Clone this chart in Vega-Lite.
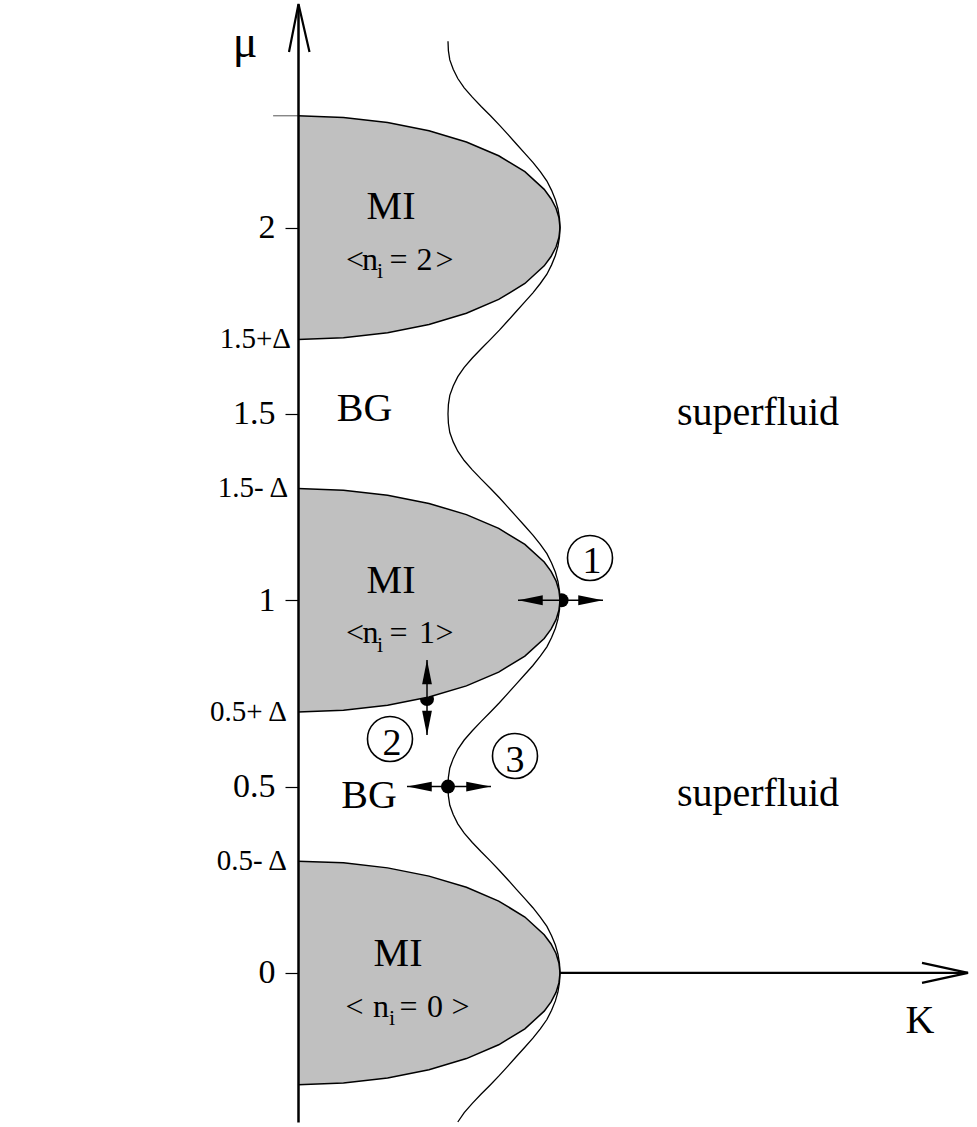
{
  "$schema": "https://vega.github.io/schema/vega-lite/v6.json",
  "width": 655,
  "height": 1118,
  "autosize": {"type": "none"},
  "padding": {"left": 298, "top": 4, "right": 24, "bottom": 5},
  "background": "white",
  "config": {"view": {"stroke": null}},
  "datasets": {
    "lobes": [
      {"lobe": "n2", "K": 0, "mu": 2.3}, {"lobe": "n2", "K": 0.1736, "mu": 2.2954}, {"lobe": "n2", "K": 0.342, "mu": 2.2819}, {"lobe": "n2", "K": 0.5, "mu": 2.2598}, {"lobe": "n2", "K": 0.6428, "mu": 2.2298}, {"lobe": "n2", "K": 0.766, "mu": 2.1928}, {"lobe": "n2", "K": 0.866, "mu": 2.15}, {"lobe": "n2", "K": 0.9397, "mu": 2.1026}, {"lobe": "n2", "K": 0.9659, "mu": 2.0776}, {"lobe": "n2", "K": 0.9848, "mu": 2.0521}, {"lobe": "n2", "K": 0.9962, "mu": 2.0261}, {"lobe": "n2", "K": 1, "mu": 2}, {"lobe": "n2", "K": 0.9962, "mu": 1.9739}, {"lobe": "n2", "K": 0.9848, "mu": 1.9479}, {"lobe": "n2", "K": 0.9659, "mu": 1.9224}, {"lobe": "n2", "K": 0.9397, "mu": 1.8974}, {"lobe": "n2", "K": 0.866, "mu": 1.85}, {"lobe": "n2", "K": 0.766, "mu": 1.8072}, {"lobe": "n2", "K": 0.6428, "mu": 1.7702}, {"lobe": "n2", "K": 0.5, "mu": 1.7402}, {"lobe": "n2", "K": 0.342, "mu": 1.7181}, {"lobe": "n2", "K": 0.1736, "mu": 1.7046}, {"lobe": "n2", "K": 0, "mu": 1.7},
      {"lobe": "n1", "K": 0, "mu": 1.3}, {"lobe": "n1", "K": 0.1736, "mu": 1.2954}, {"lobe": "n1", "K": 0.342, "mu": 1.2819}, {"lobe": "n1", "K": 0.5, "mu": 1.2598}, {"lobe": "n1", "K": 0.6428, "mu": 1.2298}, {"lobe": "n1", "K": 0.766, "mu": 1.1928}, {"lobe": "n1", "K": 0.866, "mu": 1.15}, {"lobe": "n1", "K": 0.9397, "mu": 1.1026}, {"lobe": "n1", "K": 0.9659, "mu": 1.0776}, {"lobe": "n1", "K": 0.9848, "mu": 1.0521}, {"lobe": "n1", "K": 0.9962, "mu": 1.0261}, {"lobe": "n1", "K": 1, "mu": 1}, {"lobe": "n1", "K": 0.9962, "mu": 0.9739}, {"lobe": "n1", "K": 0.9848, "mu": 0.9479}, {"lobe": "n1", "K": 0.9659, "mu": 0.9224}, {"lobe": "n1", "K": 0.9397, "mu": 0.8974}, {"lobe": "n1", "K": 0.866, "mu": 0.85}, {"lobe": "n1", "K": 0.766, "mu": 0.8072}, {"lobe": "n1", "K": 0.6428, "mu": 0.7702}, {"lobe": "n1", "K": 0.5, "mu": 0.7402}, {"lobe": "n1", "K": 0.342, "mu": 0.7181}, {"lobe": "n1", "K": 0.1736, "mu": 0.7046}, {"lobe": "n1", "K": 0, "mu": 0.7},
      {"lobe": "n0", "K": 0, "mu": 0.3}, {"lobe": "n0", "K": 0.1736, "mu": 0.2954}, {"lobe": "n0", "K": 0.342, "mu": 0.2819}, {"lobe": "n0", "K": 0.5, "mu": 0.2598}, {"lobe": "n0", "K": 0.6428, "mu": 0.2298}, {"lobe": "n0", "K": 0.766, "mu": 0.1928}, {"lobe": "n0", "K": 0.866, "mu": 0.15}, {"lobe": "n0", "K": 0.9397, "mu": 0.1026}, {"lobe": "n0", "K": 0.9659, "mu": 0.0776}, {"lobe": "n0", "K": 0.9848, "mu": 0.0521}, {"lobe": "n0", "K": 0.9962, "mu": 0.0261}, {"lobe": "n0", "K": 1, "mu": 0}, {"lobe": "n0", "K": 0.9962, "mu": -0.0261}, {"lobe": "n0", "K": 0.9848, "mu": -0.0521}, {"lobe": "n0", "K": 0.9659, "mu": -0.0776}, {"lobe": "n0", "K": 0.9397, "mu": -0.1026}, {"lobe": "n0", "K": 0.866, "mu": -0.15}, {"lobe": "n0", "K": 0.766, "mu": -0.1928}, {"lobe": "n0", "K": 0.6428, "mu": -0.2298}, {"lobe": "n0", "K": 0.5, "mu": -0.2598}, {"lobe": "n0", "K": 0.342, "mu": -0.2819}, {"lobe": "n0", "K": 0.1736, "mu": -0.2954}, {"lobe": "n0", "K": 0, "mu": -0.3}
    ],
    "boundary": [
      {"K": 0.5725, "mu": 2.5}, {"K": 0.574, "mu": 2.475}, {"K": 0.5794, "mu": 2.45}, {"K": 0.5924, "mu": 2.425}, {"K": 0.6099, "mu": 2.4}, {"K": 0.6344, "mu": 2.375}, {"K": 0.6653, "mu": 2.35}, {"K": 0.6992, "mu": 2.325}, {"K": 0.7347, "mu": 2.3}, {"K": 0.7687, "mu": 2.275}, {"K": 0.8011, "mu": 2.25}, {"K": 0.8328, "mu": 2.225}, {"K": 0.8649, "mu": 2.2}, {"K": 0.8966, "mu": 2.175}, {"K": 0.9248, "mu": 2.15}, {"K": 0.95, "mu": 2.125}, {"K": 0.9679, "mu": 2.1}, {"K": 0.9824, "mu": 2.075}, {"K": 0.9924, "mu": 2.05}, {"K": 0.9981, "mu": 2.025}, {"K": 1, "mu": 2.0},
      {"K": 0.9981, "mu": 1.975}, {"K": 0.9924, "mu": 1.95}, {"K": 0.9824, "mu": 1.925}, {"K": 0.9679, "mu": 1.9}, {"K": 0.95, "mu": 1.875}, {"K": 0.9248, "mu": 1.85}, {"K": 0.8966, "mu": 1.825}, {"K": 0.8649, "mu": 1.8}, {"K": 0.8328, "mu": 1.775}, {"K": 0.8011, "mu": 1.75}, {"K": 0.7687, "mu": 1.725}, {"K": 0.7347, "mu": 1.7}, {"K": 0.6992, "mu": 1.675}, {"K": 0.6653, "mu": 1.65}, {"K": 0.6344, "mu": 1.625}, {"K": 0.6099, "mu": 1.6}, {"K": 0.5924, "mu": 1.575}, {"K": 0.5794, "mu": 1.55}, {"K": 0.574, "mu": 1.525}, {"K": 0.5725, "mu": 1.5},
      {"K": 0.574, "mu": 1.475}, {"K": 0.5794, "mu": 1.45}, {"K": 0.5924, "mu": 1.425}, {"K": 0.6099, "mu": 1.4}, {"K": 0.6344, "mu": 1.375}, {"K": 0.6653, "mu": 1.35}, {"K": 0.6992, "mu": 1.325}, {"K": 0.7347, "mu": 1.3}, {"K": 0.7687, "mu": 1.275}, {"K": 0.8011, "mu": 1.25}, {"K": 0.8328, "mu": 1.225}, {"K": 0.8649, "mu": 1.2}, {"K": 0.8966, "mu": 1.175}, {"K": 0.9248, "mu": 1.15}, {"K": 0.95, "mu": 1.125}, {"K": 0.9679, "mu": 1.1}, {"K": 0.9824, "mu": 1.075}, {"K": 0.9924, "mu": 1.05}, {"K": 0.9981, "mu": 1.025}, {"K": 1, "mu": 1.0},
      {"K": 0.9981, "mu": 0.975}, {"K": 0.9924, "mu": 0.95}, {"K": 0.9824, "mu": 0.925}, {"K": 0.9679, "mu": 0.9}, {"K": 0.95, "mu": 0.875}, {"K": 0.9248, "mu": 0.85}, {"K": 0.8966, "mu": 0.825}, {"K": 0.8649, "mu": 0.8}, {"K": 0.8328, "mu": 0.775}, {"K": 0.8011, "mu": 0.75}, {"K": 0.7687, "mu": 0.725}, {"K": 0.7347, "mu": 0.7}, {"K": 0.6992, "mu": 0.675}, {"K": 0.6653, "mu": 0.65}, {"K": 0.6344, "mu": 0.625}, {"K": 0.6099, "mu": 0.6}, {"K": 0.5924, "mu": 0.575}, {"K": 0.5794, "mu": 0.55}, {"K": 0.574, "mu": 0.525}, {"K": 0.5725, "mu": 0.5},
      {"K": 0.574, "mu": 0.475}, {"K": 0.5794, "mu": 0.45}, {"K": 0.5924, "mu": 0.425}, {"K": 0.6099, "mu": 0.4}, {"K": 0.6344, "mu": 0.375}, {"K": 0.6653, "mu": 0.35}, {"K": 0.6992, "mu": 0.325}, {"K": 0.7347, "mu": 0.3}, {"K": 0.7687, "mu": 0.275}, {"K": 0.8011, "mu": 0.25}, {"K": 0.8328, "mu": 0.225}, {"K": 0.8649, "mu": 0.2}, {"K": 0.8966, "mu": 0.175}, {"K": 0.9248, "mu": 0.15}, {"K": 0.95, "mu": 0.125}, {"K": 0.9679, "mu": 0.1}, {"K": 0.9824, "mu": 0.075}, {"K": 0.9924, "mu": 0.05}, {"K": 0.9981, "mu": 0.025}, {"K": 1, "mu": 0.0},
      {"K": 0.9981, "mu": -0.025}, {"K": 0.9924, "mu": -0.05}, {"K": 0.9824, "mu": -0.075}, {"K": 0.9679, "mu": -0.1}, {"K": 0.95, "mu": -0.125}, {"K": 0.9248, "mu": -0.15}, {"K": 0.8966, "mu": -0.175}, {"K": 0.8649, "mu": -0.2}, {"K": 0.8328, "mu": -0.225}, {"K": 0.8011, "mu": -0.25}, {"K": 0.7687, "mu": -0.275}, {"K": 0.7347, "mu": -0.3}, {"K": 0.6992, "mu": -0.325}, {"K": 0.6653, "mu": -0.35}, {"K": 0.6344, "mu": -0.375}, {"K": 0.6099, "mu": -0.4}
    ],
    "strokes": [
      {"kind": "axis", "id": "kaxis", "K": 1.0, "mu": 0}, {"kind": "axis", "id": "kaxis", "K": 2.5573, "mu": 0},
      {"kind": "axis", "id": "khead", "K": 2.3817, "mu": 0.0268}, {"kind": "axis", "id": "khead", "K": 2.5573, "mu": 0}, {"kind": "axis", "id": "khead", "K": 2.3817, "mu": -0.0268},
      {"kind": "axis", "id": "muhead", "K": -0.0344, "mu": 2.4714}, {"kind": "axis", "id": "muhead", "K": 0.0019, "mu": 2.6}, {"kind": "axis", "id": "muhead", "K": 0.0439, "mu": 2.4714},
      {"kind": "thin", "id": "ext", "K": -0.095, "mu": 2.3}, {"kind": "thin", "id": "ext", "K": 0, "mu": 2.3},
      {"kind": "shaft", "id": "a1", "K": 0.8397, "mu": 1.0}, {"kind": "shaft", "id": "a1", "K": 1.1641, "mu": 1.0},
      {"kind": "shaft", "id": "a2", "K": 0.4924, "mu": 0.8399}, {"kind": "shaft", "id": "a2", "K": 0.4924, "mu": 0.6386},
      {"kind": "shaft", "id": "a3", "K": 0.416, "mu": 0.5}, {"kind": "shaft", "id": "a3", "K": 0.7366, "mu": 0.5}
    ],
    "heads": [
      {"dir": "left", "K": 0.8874, "mu": 1.0}, {"dir": "right", "K": 1.1164, "mu": 1.0},
      {"dir": "up", "K": 0.4924, "mu": 0.8077}, {"dir": "down", "K": 0.4924, "mu": 0.6708},
      {"dir": "left", "K": 0.4637, "mu": 0.5}, {"dir": "right", "K": 0.6889, "mu": 0.5}
    ],
    "dots": [
      {"K": 1.006, "mu": 1.0}, {"K": 0.4924, "mu": 0.7352}, {"K": 0.5725, "mu": 0.5}
    ],
    "circles": [
      {"K": 1.1145, "mu": 1.1136}, {"K": 0.3511, "mu": 0.6279}, {"K": 0.8282, "mu": 0.5823}
    ],
    "labels": [
      {"role": "region", "text": "MI", "K": 0.355, "mu": 2.023},
      {"role": "region", "text": "MI", "K": 0.355, "mu": 1.0197},
      {"role": "region", "text": "MI", "K": 0.3817, "mu": 0.0188},
      {"role": "region", "text": "BG", "K": 0.254, "mu": 1.481},
      {"role": "region", "text": "BG", "K": 0.271, "mu": 0.4428},
      {"role": "region", "text": "superfluid", "K": 1.7557, "mu": 1.4705},
      {"role": "region", "text": "superfluid", "K": 1.7557, "mu": 0.448},
      {"role": "region", "text": "K", "K": 2.374, "mu": -0.161},
      {"role": "mu", "text": "μ", "K": -0.202, "mu": 2.458},
      {"role": "sym", "text": "<", "K": 0.2176, "mu": 1.8864}, {"role": "sym", "text": "n", "K": 0.2748, "mu": 1.8864}, {"role": "sym", "text": "=", "K": 0.3836, "mu": 1.8864}, {"role": "sym", "text": "2", "K": 0.4828, "mu": 1.8864}, {"role": "sym", "text": ">", "K": 0.5592, "mu": 1.8864},
      {"role": "sub", "text": "i", "K": 0.313, "mu": 1.865},
      {"role": "sym", "text": "<", "K": 0.2176, "mu": 0.8855}, {"role": "sym", "text": "n", "K": 0.2767, "mu": 0.8855}, {"role": "sym", "text": "=", "K": 0.3836, "mu": 0.8855}, {"role": "sym", "text": "1", "K": 0.4924, "mu": 0.8855}, {"role": "sym", "text": ">", "K": 0.5592, "mu": 0.8855},
      {"role": "sub", "text": "i", "K": 0.313, "mu": 0.8614},
      {"role": "sym", "text": "<", "K": 0.2156, "mu": -0.1181}, {"role": "sym", "text": "n", "K": 0.3168, "mu": -0.1181}, {"role": "sym", "text": "=", "K": 0.4218, "mu": -0.1181}, {"role": "sym", "text": "0", "K": 0.5229, "mu": -0.1181}, {"role": "sym", "text": ">", "K": 0.6202, "mu": -0.1181},
      {"role": "sub", "text": "i", "K": 0.3588, "mu": -0.1395},
      {"role": "delta", "text": "1.5+Δ", "K": -0.0267, "mu": 1.7},
      {"role": "delta", "text": "1.5- Δ", "K": -0.038, "mu": 1.3},
      {"role": "delta", "text": "0.5+ Δ", "K": -0.042, "mu": 0.7},
      {"role": "delta", "text": "0.5- Δ", "K": -0.042, "mu": 0.3},
      {"role": "num", "text": "1", "K": 1.1221, "mu": 1.0733},
      {"role": "num", "text": "2", "K": 0.3588, "mu": 0.585},
      {"role": "num", "text": "3", "K": 0.8282, "mu": 0.5394}
    ]
  },
  "encoding": {
    "x": {"field": "K", "type": "quantitative", "stack": null, "scale": {"domain": [0, 2.5], "nice": false, "zero": false}, "axis": null},
    "y": {"field": "mu", "type": "quantitative", "scale": {"domain": [-0.4, 2.6], "nice": false, "zero": false},
      "axis": {"title": null, "values": [0, 0.5, 1, 1.5, 2], "labelExpr": "datum.value + ''", "grid": false, "zindex": 1,
        "domainColor": "black", "domainWidth": 2.5, "tickColor": "black", "tickSize": 13, "tickWidth": 1.2,
        "labelFont": "Liberation Serif", "labelFontSize": 34, "labelColor": "black", "labelPadding": 10}}
  },
  "layer": [
    {"data": {"name": "dots"}, "mark": {"type": "point", "shape": "circle", "filled": true, "color": "black", "size": 196, "opacity": 1}},
    {"data": {"name": "lobes"}, "mark": {"type": "area", "orient": "horizontal", "color": "#c0c0c0", "opacity": 1}, "encoding": {"detail": {"field": "lobe"}}},
    {"data": {"name": "lobes"}, "mark": {"type": "line", "color": "black", "strokeWidth": 1.5}, "encoding": {"detail": {"field": "lobe"}, "order": {"value": null}}},
    {"data": {"name": "boundary"}, "mark": {"type": "line", "color": "black", "strokeWidth": 1.3}, "encoding": {"order": {"value": null}}},
    {"data": {"name": "strokes"}, "transform": [{"filter": "datum.kind == 'axis'"}], "mark": {"type": "line", "color": "black", "strokeWidth": 2.2}, "encoding": {"detail": {"field": "id"}, "order": {"value": null}}},
    {"data": {"name": "strokes"}, "transform": [{"filter": "datum.kind == 'thin'"}], "mark": {"type": "line", "color": "#555555", "strokeWidth": 1}, "encoding": {"detail": {"field": "id"}, "order": {"value": null}}},
    {"data": {"name": "strokes"}, "transform": [{"filter": "datum.kind == 'shaft'"}], "mark": {"type": "line", "color": "black", "strokeWidth": 1.5}, "encoding": {"detail": {"field": "id"}, "order": {"value": null}}},
    {"data": {"name": "heads"}, "mark": {"type": "point", "filled": true, "color": "black", "size": 600, "opacity": 1, "strokeWidth": 0},
      "encoding": {"shape": {"field": "dir", "type": "nominal", "legend": null, "scale": {"domain": ["left", "right", "up", "down"], "range": ["M1,-0.4L-1,0L1,0.4Z", "M-1,-0.4L1,0L-1,0.4Z", "M-0.4,1L0,-1L0.4,1Z", "M-0.4,-1L0,1L0.4,-1Z"]}}}},
    {"data": {"name": "circles"}, "mark": {"type": "point", "shape": "circle", "filled": false, "stroke": "black", "strokeWidth": 1.6, "size": 2025, "opacity": 1}},
    {"data": {"name": "labels"}, "transform": [{"filter": "datum.role == 'region'"}], "mark": {"type": "text", "font": "Liberation Serif", "fontSize": 40, "color": "black", "align": "center", "baseline": "alphabetic"}, "encoding": {"text": {"field": "text"}}},
    {"data": {"name": "labels"}, "transform": [{"filter": "datum.role == 'mu'"}], "mark": {"type": "text", "font": "Liberation Serif", "fontSize": 46, "color": "black", "align": "center", "baseline": "alphabetic"}, "encoding": {"text": {"field": "text"}}},
    {"data": {"name": "labels"}, "transform": [{"filter": "datum.role == 'sym'"}], "mark": {"type": "text", "font": "Liberation Serif", "fontSize": 32, "color": "black", "align": "center", "baseline": "alphabetic"}, "encoding": {"text": {"field": "text"}}},
    {"data": {"name": "labels"}, "transform": [{"filter": "datum.role == 'sub'"}], "mark": {"type": "text", "font": "Liberation Serif", "fontSize": 22, "color": "black", "align": "center", "baseline": "alphabetic"}, "encoding": {"text": {"field": "text"}}},
    {"data": {"name": "labels"}, "transform": [{"filter": "datum.role == 'delta'"}], "mark": {"type": "text", "font": "Liberation Serif", "fontSize": 29, "color": "black", "align": "right", "baseline": "middle"}, "encoding": {"text": {"field": "text"}}},
    {"data": {"name": "labels"}, "transform": [{"filter": "datum.role == 'num'"}], "mark": {"type": "text", "font": "Liberation Serif", "fontSize": 38, "color": "black", "align": "center", "baseline": "alphabetic"}, "encoding": {"text": {"field": "text"}}}
  ]
}
